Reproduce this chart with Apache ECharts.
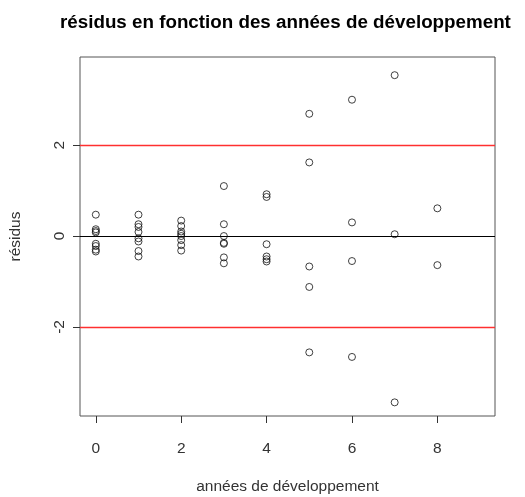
<!DOCTYPE html>
<html><head><meta charset="utf-8">
<script src="https://cdn.jsdelivr.net/npm/echarts@6/dist/echarts.min.js"></script>
<style>html,body{margin:0;padding:0;background:#fff}#c{width:525px;height:497px}</style>
</head><body><div id="c"></div>
<script>
const years = [0, 1, 2, 3, 4, 5, 6, 7, 8];
const res0 = [0.47, 0.15, 0.11, 0.08, -0.17, -0.22, -0.30, -0.34];
const res1 = [0.47, 0.26, 0.20, 0.09, -0.05, -0.12, -0.33, -0.45];
const res2 = [0.34, 0.22, 0.10, 0.05, 0.0, -0.09, -0.20, -0.32];
const res3 = [1.10, 0.26, 0.0, -0.15, -0.17, -0.47, -0.60];
const res4 = [0.92, 0.86, -0.18, -0.45, -0.51, -0.56];
const res5 = [2.69, 1.62, -0.67, -1.12, -2.56];
const res6 = [3.00, 0.30, -0.55, -2.66];
const res7 = [3.54, 0.04, -3.66];
const res8 = [0.61, -0.64];
const residuals = [res0, res1, res2, res3, res4, res5, res6, res7, res8];
const xTicks = [0, 2, 4, 6, 8];
const yTicks = [-2, 0, 2];
const redLines = [-2, 2];
const blackLines = [0];

const points = [];
years.forEach((yr, i) => residuals[i].forEach(v => points.push([yr, v])));

const font = 'Liberation Sans, Arial, sans-serif';
const chart = echarts.init(document.getElementById('c'), null, {renderer: 'canvas'});
chart.setOption({
  animation: false,
  backgroundColor: '#fff',
  title: {
    text: 'résidus en fonction des années de développement',
    left: 55, top: 8,
    textStyle: {fontFamily: font, fontWeight: 'bold', fontSize: 18.8, color: '#000'}
  },
  grid: {left: 80, right: 30, top: 57, bottom: 81, outerBoundsMode: 'none', containLabel: false,
    show: true, borderColor: '#555', borderWidth: 1, backgroundColor: 'transparent'},
  xAxis: {
    type: 'value', min: -0.37, max: 9.35,
    name: 'années de développement', nameLocation: 'middle', nameGap: 63,
    nameTextStyle: {fontFamily: font, fontSize: 15.5, color: '#333'},
    axisLine: {show: false, onZero: false},
    axisTick: {show: true, length: 7, customValues: xTicks, lineStyle: {color: '#333'}},
    axisLabel: {customValues: xTicks, margin: 25, fontFamily: font, fontSize: 15.5, color: '#333'},
    splitLine: {show: false}
  },
  yAxis: {
    type: 'value', min: -3.96, max: 3.94,
    name: 'résidus', nameLocation: 'middle', nameGap: 56,
    nameTextStyle: {fontFamily: font, fontSize: 15.5, color: '#333'},
    axisLine: {show: false, onZero: false},
    axisTick: {show: true, length: 7, customValues: yTicks, lineStyle: {color: '#333'}},
    axisLabel: {customValues: yTicks, rotate: 90, margin: 12, fontFamily: font, fontSize: 15.5, color: '#333', align: 'center', verticalAlign: 'bottom'},
    splitLine: {show: false}
  },
  series: [{
    type: 'scatter',
    data: points,
    symbol: 'circle',
    symbolSize: 7,
    itemStyle: {color: 'rgba(0,0,0,0)', borderColor: '#111', borderWidth: 1},
    z: 3
  }, {
    type: 'scatter', data: [], silent: true,
    markLine: {
      silent: true, symbol: 'none', label: {show: false},
      lineStyle: {color: '#ff3030', width: 1.3, type: 'solid'},
      data: redLines.map(v => ({yAxis: v}))
    }
  }, {
    type: 'scatter', data: [], silent: true,
    markLine: {
      silent: true, symbol: 'none', label: {show: false},
      lineStyle: {color: '#000', width: 1, type: 'solid'},
      data: blackLines.map(v => ({yAxis: v}))
    }
  }]
});
</script></body></html>
